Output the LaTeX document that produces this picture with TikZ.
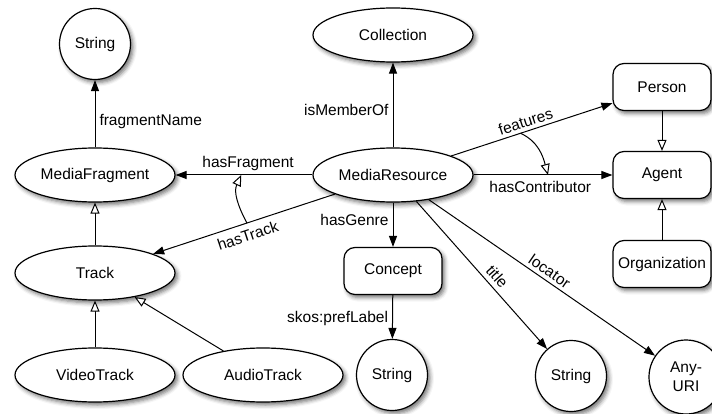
\documentclass[tikz,border=0pt]{standalone}
\usepackage{fontspec}
\setmainfont{Liberation Sans}
\usetikzlibrary{shapes.geometric, arrows.meta, shadows.blur}

\begin{document}
\begin{tikzpicture}[x=1pt, y=-1pt,
  every node/.style={font=\fontsize{15.5}{19}\selectfont},
  base/.style={draw=black, line width=1.2pt, fill=white,
    blur shadow={shadow xshift=2.5pt, shadow yshift=-3pt,
      shadow blur radius=4pt, shadow opacity=55}},
  cls/.style={base, ellipse, minimum width=160pt, minimum height=54pt, inner sep=0pt},
  lit/.style={base, circle, minimum size=71pt, inner sep=0pt, align=center},
  box/.style={base, rounded corners=11pt, minimum width=98pt, minimum height=47pt, inner sep=0pt},
  rel/.style={line width=1pt, -{Triangle[length=11pt, width=8pt]}},
  sub/.style={line width=1pt, -{Triangle[open, length=11pt, width=9pt, fill=white]}},
  lbl/.style={inner sep=2pt}
]
\useasboundingbox (0,0) rectangle (712,414);

% classes
\node[lit] (s1) at (95,44) {String};
\node[cls] (mf) at (95,175) {MediaFragment};
\node[cls] (track) at (95,273) {Track};
\node[cls] (video) at (95,375) {VideoTrack};
\node[cls] (audio) at (263,375) {AudioTrack};
\node[cls] (coll) at (393,35) {Collection};
\node[cls] (mr) at (393,175) {MediaResource};
\node[box] (concept) at (393,271) {Concept};
\node[lit] (s2) at (392,375) {String};
\node[lit] (s3) at (571,376) {String};
\node[lit, minimum size=74pt] (uri) at (686,377) {Any-\\URI};
\node[box] (person) at (662,87) {Person};
\node[box] (agent) at (662,175) {Agent};
\node[box] (org) at (662,264) {Organization};

% properties
\draw[rel] (mf) -- (s1) node[lbl, right=2pt, pos=0.38] {fragmentName};
\draw[rel] (mr) -- (coll) node[lbl, left=2pt, pos=0.44] {isMemberOf};
\draw[rel] (mr) -- (mf) node[lbl, above=2pt, pos=0.47] {hasFragment}
  coordinate[pos=0.52] (hf);
\draw[rel] (mr) -- (track) node[lbl, sloped, below=4pt, pos=0.5] {hasTrack}
  coordinate[pos=0.484] (ht);
\draw[rel] (mr) -- (person) node[lbl, sloped, above=1.5pt, pos=0.48] {features}
  coordinate[pos=0.43] (ft);
\draw[rel] (mr) -- (agent) node[lbl, below=3.5pt, pos=0.48] {hasContributor}
  coordinate[pos=0.536] (hc);
\draw[rel] (mr) -- (concept) node[lbl, left=2pt, pos=0.4] {hasGenre};
\draw[rel] (concept) -- (s2) node[lbl, left=2pt, pos=0.53] {skos:prefLabel};
\draw[rel] (mr) -- (s3) node[lbl, sloped, above=2.5pt, pos=0.557] {title};
\draw[rel] (mr) -- (uri) node[lbl, sloped, above=1.5pt, pos=0.51] {locator};

% subclass links
\draw[sub] (person) -- (agent);
\draw[sub] (org) -- (agent);
\draw[sub] (track) -- (mf);
\draw[sub] (video) -- (track);
\draw[sub] (audio) -- (track);

% subproperty links
\draw[sub] (ht) to[out=118, in=-115] (hf);
\draw[sub] (ft) to[out=-25, in=105] (hc);
\end{tikzpicture}
\end{document}
